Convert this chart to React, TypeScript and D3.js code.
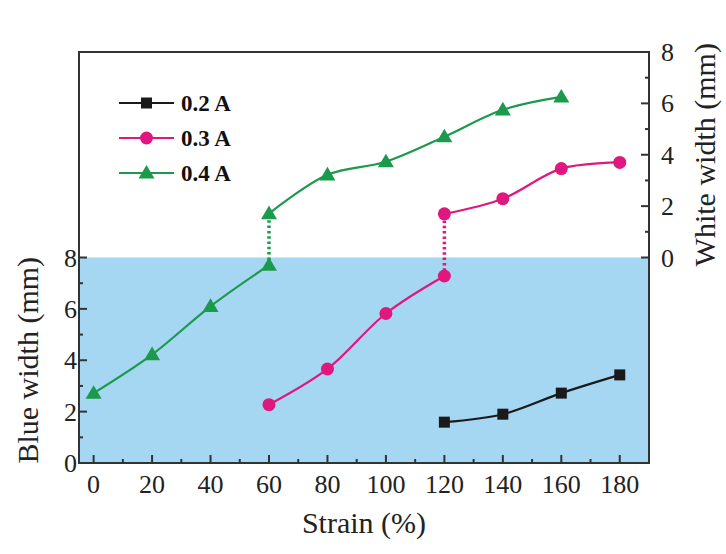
import React from "react";
import * as d3 from "d3";

// ---- data ----
const seriesNames = ["0.2 A", "0.3 A", "0.4 A"];
const seriesColors = ["#1a1a1a", "#e0177f", "#1b9a4c"];

// 0.2 A — blue width only
const strain02Blue = [120, 140, 160, 180];
const blue02 = [1.59, 1.9, 2.72, 3.43];

// 0.3 A
const strain03Blue = [60, 80, 100, 120];
const blue03 = [2.27, 3.66, 5.82, 7.28];
const strain03White = [120, 140, 160, 180];
const white03 = [1.7, 2.29, 3.46, 3.7];

// 0.4 A
const strain04Blue = [0, 20, 40, 60];
const blue04 = [2.72, 4.22, 6.1, 7.7];
const strain04White = [60, 80, 100, 120, 140, 160];
const white04 = [1.71, 3.22, 3.73, 4.7, 5.75, 6.25];

const xTicks = [0, 20, 40, 60, 80, 100, 120, 140, 160, 180];
const xMinorTicks = [10, 30, 50, 70, 90, 110, 130, 150, 170];
const yTicks = [0, 2, 4, 6, 8];
const yMinorTicks = [1, 3, 5, 7];

const W = 726;
const H = 554;
const L = 79, R = 649, T = 52, B = 463;

export default function App() {
  const x = d3.scaleLinear().domain([-5, 190]).range([L, R]);
  const yBlue = d3.scaleLinear().domain([0, 16]).range([B, T]);
  const yWhite = d3.scaleLinear().domain([-8, 8]).range([B, T]);

  const line = d3.line<[number, number]>().x(d => d[0]).y(d => d[1]).curve(d3.curveCatmullRom.alpha(0.5));

  const pts = (xs: number[], ys: number[], ys_: d3.ScaleLinear<number, number>) =>
    xs.map((v, i) => [x(v), ys_(ys[i])] as [number, number]);

  const series = [
    { color: seriesColors[0], shape: "square", segs: [pts(strain02Blue, blue02, yBlue)] },
    { color: seriesColors[1], shape: "circle", segs: [pts(strain03Blue, blue03, yBlue), pts(strain03White, white03, yWhite)] },
    { color: seriesColors[2], shape: "triangle", segs: [pts(strain04Blue, blue04, yBlue), pts(strain04White, white04, yWhite)] },
  ];

  const connectors = [
    { color: seriesColors[1], x: x(strain03Blue[strain03Blue.length - 1]), y1: yBlue(blue03[blue03.length - 1]), y2: yWhite(white03[0]) },
    { color: seriesColors[2], x: x(strain04Blue[strain04Blue.length - 1]), y1: yBlue(blue04[blue04.length - 1]), y2: yWhite(white04[0]) },
  ];

  const marker = (shape: string, cx: number, cy: number, color: string, key: string) => {
    if (shape === "square") return <rect key={key} x={cx - 5.5} y={cy - 5.5} width={11} height={11} fill={color} />;
    if (shape === "circle") return <circle key={key} cx={cx} cy={cy} r={6.5} fill={color} />;
    const s = 8;
    return <path key={key} d={`M${cx},${cy - s}L${cx + s},${cy + s * 0.7}L${cx - s},${cy + s * 0.7}Z`} fill={color} />;
  };

  const axisColor = "#333";
  const fontStyle = { fontFamily: "Liberation Serif, Times New Roman, Times, serif" };

  return (
    <svg width={W} height={H} style={{ position: "absolute", left: 0, top: 0, background: "#fff", ...fontStyle }}>
      <rect x={L} y={yBlue(8)} width={R - L} height={B - yBlue(8)} fill="#a5d6f2" />

      {/* connectors */}
      {connectors.map((c, i) => (
        <line key={"c" + i} x1={c.x} x2={c.x} y1={c.y1} y2={c.y2} stroke={c.color} strokeWidth={3.5} strokeDasharray="2.5 2.8" />
      ))}

      {/* series */}
      {series.map((s, i) => (
        <g key={"s" + i}>
          {s.segs.map((seg, j) => (
            <path key={j} d={line(seg) || ""} fill="none" stroke={s.color} strokeWidth={2.2} />
          ))}
          {s.segs.map((seg, j) => seg.map((p, k) => marker(s.shape, p[0], p[1], s.color, `m${j}-${k}`)))}
        </g>
      ))}

      {/* frame */}
      <rect x={L} y={T} width={R - L} height={B - T} fill="none" stroke={axisColor} strokeWidth={2} />

      {/* x ticks */}
      {xTicks.map(t => (
        <g key={"xt" + t}>
          <line x1={x(t)} x2={x(t)} y1={B} y2={B - 8} stroke={axisColor} strokeWidth={2} />
          <text x={x(t)} y={493} textAnchor="middle" fontSize={26} fill="#222" style={fontStyle}>{t}</text>
        </g>
      ))}
      {xMinorTicks.map(t => (
        <line key={"xm" + t} x1={x(t)} x2={x(t)} y1={B} y2={B - 4} stroke={axisColor} strokeWidth={2} />
      ))}

      {/* left axis ticks */}
      {yTicks.map(t => (
        <g key={"yl" + t}>
          <line x1={L} x2={L + 8} y1={yBlue(t)} y2={yBlue(t)} stroke={axisColor} strokeWidth={2} />
          <text x={L - 2} y={yBlue(t) + 9} textAnchor="end" fontSize={26} fill="#222" style={fontStyle}>{t}</text>
        </g>
      ))}
      {yMinorTicks.map(t => (
        <line key={"ylm" + t} x1={L} x2={L + 4} y1={yBlue(t)} y2={yBlue(t)} stroke={axisColor} strokeWidth={2} />
      ))}

      {/* right axis ticks */}
      {yTicks.map(t => (
        <g key={"yr" + t}>
          <line x1={R} x2={R - 8} y1={yWhite(t)} y2={yWhite(t)} stroke={axisColor} strokeWidth={2} />
          <text x={R + 12} y={yWhite(t) + 9} textAnchor="start" fontSize={26} fill="#222" style={fontStyle}>{t}</text>
        </g>
      ))}
      {yMinorTicks.map(t => (
        <line key={"yrm" + t} x1={R} x2={R - 4} y1={yWhite(t)} y2={yWhite(t)} stroke={axisColor} strokeWidth={2} />
      ))}

      {/* axis titles */}
      <text x={364} y={533} textAnchor="middle" fontSize={30} fill="#222" style={fontStyle}>Strain (%)</text>
      <text transform={`translate(38, ${(yBlue(0) + yBlue(8)) / 2}) rotate(-90)`} textAnchor="middle" fontSize={30} fill="#222" style={fontStyle}>Blue width (mm)</text>
      <text transform={`translate(715, ${(yWhite(0) + yWhite(8)) / 2}) rotate(-90)`} textAnchor="middle" fontSize={30} fill="#222" style={fontStyle}>White width (mm)</text>

      {/* legend */}
      {seriesNames.map((n, i) => {
        const cy = 103 + i * 35;
        const shape = series[i].shape;
        return (
          <g key={"lg" + i}>
            <line x1={119} x2={174} y1={cy} y2={cy} stroke={seriesColors[i]} strokeWidth={2.2} />
            {marker(shape, 146.5, cy, seriesColors[i], "lm" + i)}
            <text x={181} y={cy + 8} fontSize={23} fontWeight="bold" fill="#111" style={fontStyle}>{n}</text>
          </g>
        );
      })}
    </svg>
  );
}
